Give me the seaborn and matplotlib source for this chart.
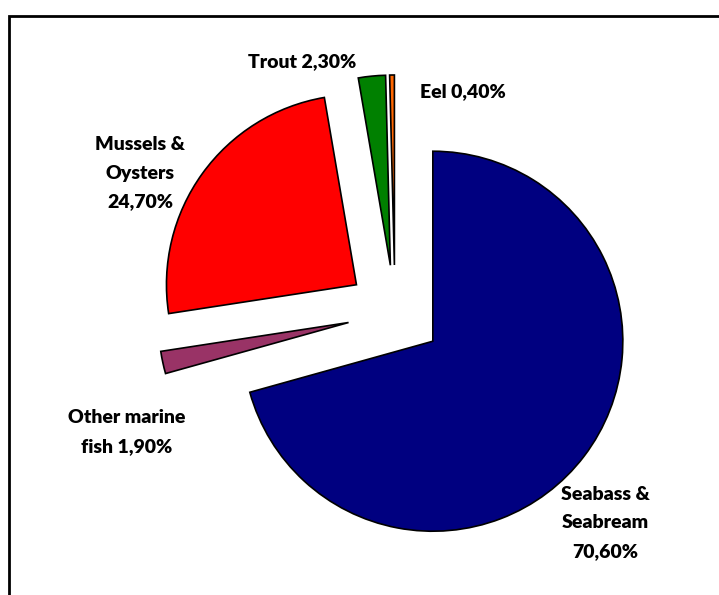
import matplotlib
matplotlib.use("Agg")
import matplotlib.pyplot as plt
import seaborn as sns
from matplotlib.patches import Rectangle

sns.set_theme(style="white")
plt.rcParams['font.family'] = ['Lato', 'DejaVu Sans']

categories = ["Seabass &\nSeabream", "Other marine\nfish", "Mussels &\nOysters", "Trout", "Eel"]
values = [70.6, 1.9, 24.7, 2.3, 0.4]
label_texts = ["Seabass &\nSeabream\n70,60%", "Other marine\nfish 1,90%", "Mussels &\nOysters\n24,70%",
               "Trout 2,30%", "Eel 0,40%"]
colors = ["#000080", "#993366", "#FF0000", "#008000", "#FF6600"]
explode = [0.25, 0.25, 0.25, 0.25, 0.25]
# label centre positions in pixel coords (x from left, y from top)
label_px = [(605, 523), (127, 432), (140, 173), (302, 62), (463, 92)]

W, H = 719, 595
fig = plt.figure(figsize=(W / 100, H / 100), dpi=100)
ax = fig.add_axes([0, 0, 1, 1])

cx, cy, R = 395.0, 312.5, 190.0
ax.pie(values, colors=colors, explode=explode, startangle=90, counterclock=False,
       radius=1.0, center=(0, 0),
       wedgeprops=dict(edgecolor="black", linewidth=1.2))
ax.set_xlim(-cx / R, (W - cx) / R)
ax.set_ylim(-(H - cy) / R, cy / R)
ax.set_aspect("equal")
ax.axis("off")

for txt, (px, py) in zip(label_texts, label_px):
    ax.text((px - cx) / R, (cy - py) / R, txt, ha="center", va="center",
            fontsize=14, fontweight="heavy", color="black", linespacing=1.8)

# outer chart frame (left and top edges visible)
fig.patches.append(Rectangle((8.5 / W, -0.1), 1.2, (H - 15.5) / H + 0.1,
                             transform=fig.transFigure, fill=False,
                             edgecolor="black", linewidth=2))

fig.savefig("out.png", dpi=100)
